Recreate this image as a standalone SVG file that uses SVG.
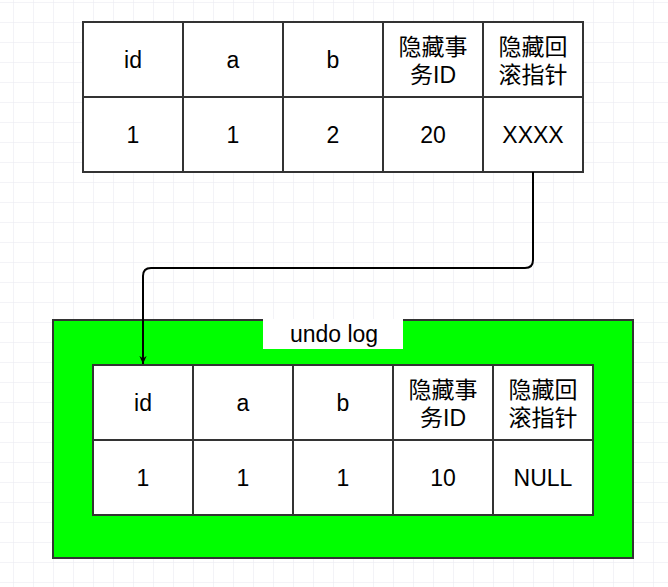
<svg xmlns="http://www.w3.org/2000/svg" width="668" height="587" viewBox="0 0 668 587">
<defs>
<pattern id="grid" x="13" y="2" width="20" height="20" patternUnits="userSpaceOnUse">
<path d="M0 0H20M0 0V20" fill="none" stroke="#e8e8ef" stroke-width="1"/>
</pattern>
<marker id="arr" viewBox="0 0 10 10" refX="9" refY="5" markerWidth="9" markerHeight="9" markerUnits="userSpaceOnUse" orient="auto">
<path d="M0 1L9 5L0 9L3 5Z" fill="#000"/>
</marker>
<style>
.cell{fill:#fff;stroke:#333;stroke-width:2}
.t{font-family:"Liberation Sans","Noto Sans CJK SC",sans-serif;font-size:23px;fill:#000;text-anchor:middle}
</style>
</defs>
<rect width="668" height="587" fill="#fff"/>
<rect width="668" height="587" fill="url(#grid)"/>

<g id="row-current">
<rect class="cell" x="83" y="22" width="100" height="75"/>
<rect class="cell" x="183" y="22" width="100" height="75"/>
<rect class="cell" x="283" y="22" width="100" height="75"/>
<rect class="cell" x="383" y="22" width="100" height="75"/>
<rect class="cell" x="483" y="22" width="100" height="75"/>
<rect class="cell" x="83" y="97" width="100" height="75"/>
<rect class="cell" x="183" y="97" width="100" height="75"/>
<rect class="cell" x="283" y="97" width="100" height="75"/>
<rect class="cell" x="383" y="97" width="100" height="75"/>
<rect class="cell" x="483" y="97" width="100" height="75"/>
<text class="t" x="133" y="68">id</text>
<text class="t" x="233" y="68">a</text>
<text class="t" x="333" y="68">b</text>
<text class="t" x="433" y="55">隐藏事</text>
<text class="t" x="433" y="83">务ID</text>
<text class="t" x="533" y="55">隐藏回</text>
<text class="t" x="533" y="83">滚指针</text>
<text class="t" x="133" y="143">1</text>
<text class="t" x="233" y="143">1</text>
<text class="t" x="333" y="143">2</text>
<text class="t" x="433" y="143">20</text>
<text class="t" x="533" y="143">XXXX</text>
</g>

<g id="undo-log">
<rect x="53" y="320" width="580" height="238" fill="#00ff00" stroke="#333" stroke-width="2"/>
<rect x="263" y="319" width="140" height="30" fill="#fff"/>
<text class="t" x="334" y="342">undo log</text>
</g>

<g id="row-old">
<rect class="cell" x="93" y="365" width="100" height="75"/>
<rect class="cell" x="193" y="365" width="100" height="75"/>
<rect class="cell" x="293" y="365" width="100" height="75"/>
<rect class="cell" x="393" y="365" width="100" height="75"/>
<rect class="cell" x="493" y="365" width="100" height="75"/>
<rect class="cell" x="93" y="440" width="100" height="75"/>
<rect class="cell" x="193" y="440" width="100" height="75"/>
<rect class="cell" x="293" y="440" width="100" height="75"/>
<rect class="cell" x="393" y="440" width="100" height="75"/>
<rect class="cell" x="493" y="440" width="100" height="75"/>
<text class="t" x="143" y="411">id</text>
<text class="t" x="243" y="411">a</text>
<text class="t" x="343" y="411">b</text>
<text class="t" x="443" y="398">隐藏事</text>
<text class="t" x="443" y="426">务ID</text>
<text class="t" x="543" y="398">隐藏回</text>
<text class="t" x="543" y="426">滚指针</text>
<text class="t" x="143" y="486">1</text>
<text class="t" x="243" y="486">1</text>
<text class="t" x="343" y="486">1</text>
<text class="t" x="443" y="486">10</text>
<text class="t" x="543" y="486">NULL</text>
</g>

<g id="connectors">
<path d="M533 172V260Q533 268 525 268H151Q143 268 143 276V364" fill="none" stroke="#000" stroke-width="2" marker-end="url(#arr)"/>
</g>
</svg>
